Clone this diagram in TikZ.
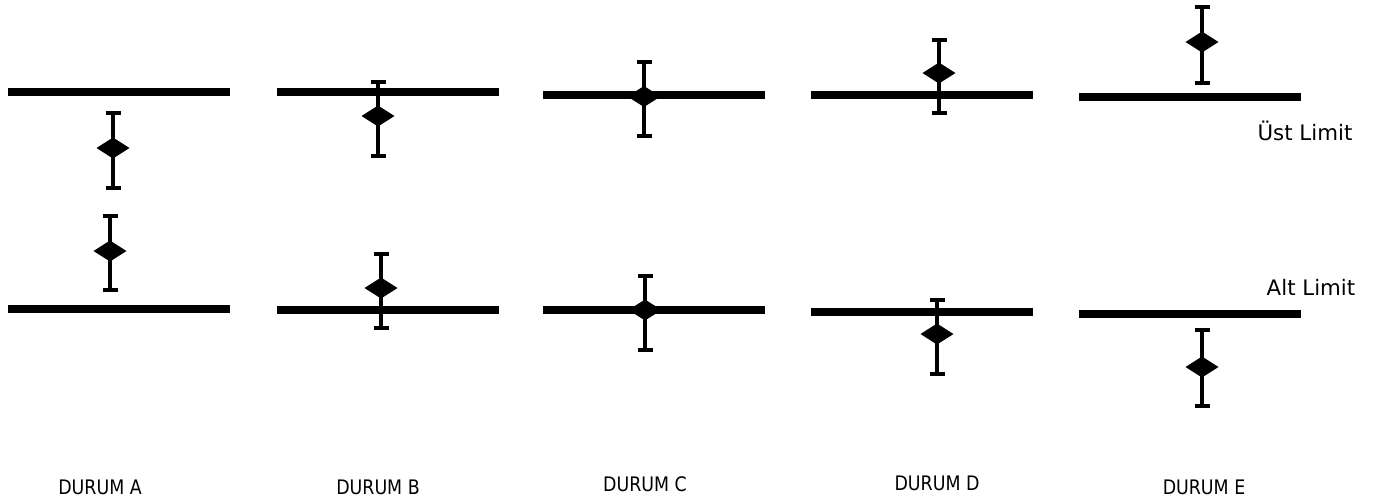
\documentclass[tikz,border=0pt]{standalone}
\usepackage{fontspec}
\setmainfont{DejaVu Sans}
\newfontfamily\narrowfont[FakeStretch=0.87]{DejaVu Sans}
\usetikzlibrary{calc}

\tikzset{
  limitline/.style={line width=6pt},
  errline/.style={line width=3pt},
  durum/.style={font=\narrowfont\fontsize{15}{17}\selectfont},
  limitlabel/.style={font=\fontsize{16}{18}\selectfont}
}

\begin{document}
\begin{tikzpicture}[x=0.75pt,y=-0.75pt]
    \useasboundingbox (0,0) rectangle (1386,501);
    % limit lines (x start / upper y / lower y)
    \foreach \xs/\yu/\yl in {8/92/309, 277/92/310, 543/95/310, 811/95/312, 1079/97/313.5}{
      \draw[limitline] (\xs,\yu) -- ++(222,0);
      \draw[limitline] (\xs,\yl) -- ++(222,0);
    }
    % error bars (x / top / mean / bottom)
    \foreach \xc/\yt/\ym/\yb in {113/113/148/188, 110/216/251/290,
        378/82/116/156, 381/254/288/328,
        644/62/96.5/136, 645/276/310/350,
        939/40/73/113, 937/300/334/374,
        1202/7/42/83, 1202/330/367/406}{
      \draw[errline] (\xc,\yt) -- (\xc,\yb);
      \draw[errline] (\xc-7.5,\yt) -- (\xc+7.5,\yt);
      \draw[errline] (\xc-7.5,\yb) -- (\xc+7.5,\yb);
      \fill (\xc-16.5,\ym) -- (\xc,\ym-10.5) -- (\xc+16.5,\ym) -- (\xc,\ym+10.5) -- cycle;
    }
    \node[limitlabel] (ust) at (1305,131) {Üst Limit};
    \node[limitlabel] (alt) at (1311,287) {Alt Limit};
    \node[durum] (durA) at (100,487) {DURUM A};
    \node[durum] (durB) at (378,487) {DURUM B};
    \node[durum] (durC) at (645,484) {DURUM C};
    \node[durum] (durD) at (937,483) {DURUM D};
    \node[durum] (durE) at (1204,487) {DURUM E};
  \end{tikzpicture}
\end{document}
